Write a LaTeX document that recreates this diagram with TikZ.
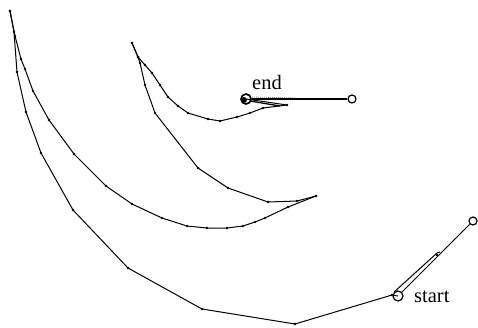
\documentclass[tikz,border=0pt]{standalone}
\usepackage{fontspec}
\setmainfont{Liberation Serif}
\begin{document}
\begin{tikzpicture}[x=1pt,y=-1pt,
  trk/.style={line width=1pt,line join=round},
  ring/.style={circle,draw,line width=1.2pt,inner sep=0pt,minimum size=8pt},
  lbl/.style={font=\fontsize{20.5}{22}\selectfont,inner sep=0pt}]
\useasboundingbox (0,0) rectangle (478,327);
% trajectories
\def\outer{(10,11),(14,32),(17,72),(26,112),(41,153),(73,210),(128,268),(202,309),(295,324),(392,295)}
\def\middle{(10,11),(15,36),(21,59),(25,69),(33,91),(49,120),(74,154),(106,186),(132,204),(162,218),(187,226),(207,228),(227,228),(243,226),(255,222),(265,218),(288,207),(316,196)}
\def\third{(132,43),(138,57),(140,63),(145,85),(155,113),(198,168),(228,188),(268,202),(297,201),(316,196)}
\def\inner{(132,43),(138,57),(145,65),(152,73),(160,85),(168,97),(178,106),(188,113),(208,119),(220,121),(237,117),(250,113),(263,108),(287,105)}
\draw[trk] (10,11) -- (14,32) -- (17,72) -- (26,112) -- (41,153) -- (73,210) -- (128,268) -- (202,309) -- (295,324) -- (392,295) -- (398,296);
\draw[trk] (10,11) -- (15,36) -- (21,59) -- (25,69) -- (33,91) -- (49,120) -- (74,154) -- (106,186) -- (132,204) -- (162,218) -- (187,226) -- (207,228) -- (227,228) -- (243,226) -- (255,222) -- (265,218) -- (288,207) -- (316,196);
\draw[trk] (132,43) -- (138,57) -- (140,63) -- (145,85) -- (155,113) -- (198,168) -- (228,188) -- (268,202) -- (297,201) -- (316,196);
\draw[trk] (132,43) -- (138,57) -- (145,65) -- (152,73) -- (160,85) -- (168,97) -- (178,106) -- (188,113) -- (208,119) -- (220,121) -- (237,117) -- (250,113) -- (263,108) -- (287,105) -- (246,99);
\draw[trk,line width=1.3pt] (250,101) -- (280,106);
\draw[gray,line width=0.8pt,dashed,dash pattern=on 1pt off 1pt] (252,97) -- (296,98);
\foreach \p in \outer {\fill \p circle (1.4);}
\foreach \p in \middle {\fill \p circle (1.4);}
\foreach \p in \third {\fill \p circle (1.4);}
\foreach \p in \inner {\fill \p circle (1.4);}
% markers
\node[ring,minimum size=10pt,line width=1.7pt] (end) at (246,99) {};
\fill (244,100) circle (3);
\node[ring] (goal) at (352,99) {};
\node[ring,minimum size=10pt] (start) at (398,296) {};
\node[ring] (far) at (473,221) {};
\draw[trk,line width=1.2pt] (end) -- (goal);
\draw[trk] (start) -- (far);
\draw[trk] (start.north west) -- (437,253) -- (440,252);
\fill (437,255) circle (1.4);
\node[lbl,anchor=south west] (endl) at (252,90) {end};
\node[lbl,anchor=west] (startl) at (414,297) {start};
\end{tikzpicture}
\end{document}
